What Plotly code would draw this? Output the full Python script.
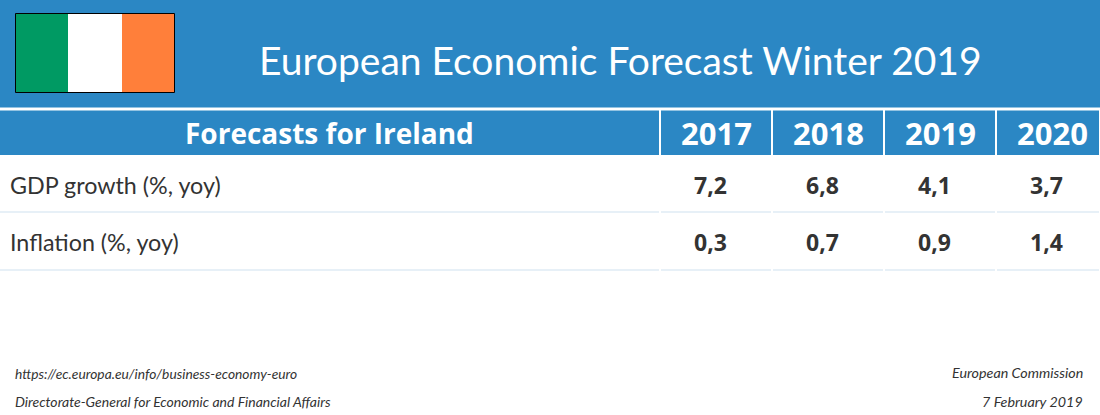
import plotly.graph_objects as go

title = "European Economic Forecast Winter 2019"
table_title = "Forecasts for Ireland"
years = ["2017", "2018", "2019", "2020"]
row_names = ["GDP growth (%, yoy)", "Inflation (%, yoy)"]
gdp_growth = [7.2, 6.8, 4.1, 3.7]
inflation = [0.3, 0.7, 0.9, 1.4]
flag_colors = ["#009A63", "#FFFFFF", "#FF7F3A"]

BLUE = "#2B87C4"
DARK = "#333333"
W, H = 1100, 415

fig = go.Figure()


def box(x0, y0, x1, y1, color):
    fig.add_shape(type="rect", x0=x0, y0=y0, x1=x1, y1=y1, fillcolor=color,
                  line=dict(width=0), layer="below")


def text(x, y, s, size, color=DARK, font="Lato", anchor="center", bold=False, italic=False):
    fig.add_annotation(x=x, y=y, text=s, showarrow=False, xanchor=anchor, yanchor="middle",
                       font=dict(family=font, size=size, color=color,
                                 weight="bold" if bold else "normal",
                                 style="italic" if italic else "normal"))


# top band and flag
box(0, 0, W, 107.5, BLUE)
flag_x = [15.5, 68, 122, 174.5]
for i, c in enumerate(flag_colors):
    box(flag_x[i], 13.5, flag_x[i + 1], 92.5, c)
fig.add_shape(type="rect", x0=15.5, y0=13.5, x1=174.5, y1=92.5, line=dict(color="#000000", width=1))
text(620, 60, title, 39, "white", "Lato")

# table header
col_edges = [0, 660, 772, 884, 996, W]
year_x = [716, 828, 940, 1052]
value_x = [710, 822, 934, 1046]
for i in range(5):
    box(col_edges[i] + (1 if i else 0), 110.5, col_edges[i + 1] - 1, 155, BLUE)
text(329.5, 133, table_title, 28, "white", "Open Sans", bold=True)
for i, y in enumerate(years):
    text(year_x[i], 133, y, 31, "white", "Open Sans", bold=True)

# table rows
rows = [gdp_growth, inflation]
row_mid = [185, 242]
row_line = [212, 270]
for r, name in enumerate(row_names):
    text(8, row_mid[r], name, 23.3, DARK, "Lato", anchor="left")
    for i, v in enumerate(rows[r]):
        text(value_x[i], row_mid[r], f"{v:.1f}".replace(".", ","), 23, DARK, "Open Sans", bold=True)
    for i in range(5):
        fig.add_shape(type="line", x0=col_edges[i] + (1 if i else 0), x1=col_edges[i + 1] - 1,
                      y0=row_line[r], y1=row_line[r], line=dict(color="#CFE1EF", width=1))

# footer
text(13, 373, "https://ec.europa.eu/info/business-economy-euro", 13.8, DARK, "Lato", "left", italic=True)
text(13, 401, "Directorate-General for Economic and Financial Affairs", 14, DARK, "Lato", "left", italic=True)
text(1085, 372, "European Commission", 14.3, DARK, "Lato", "right", italic=True)
text(1085, 401, "7 February 2019", 14.3, DARK, "Lato", "right", italic=True)

fig.update_xaxes(range=[0, W], visible=False, fixedrange=True)
fig.update_yaxes(range=[H, 0], visible=False, fixedrange=True)
fig.update_layout(width=W, height=H, margin=dict(l=0, r=0, t=0, b=0),
                  paper_bgcolor="white", plot_bgcolor="white", showlegend=False)

fig.write_html("out.html", config=dict(displayModeBar=False),
               post_script="document.body.style.margin='0';")
